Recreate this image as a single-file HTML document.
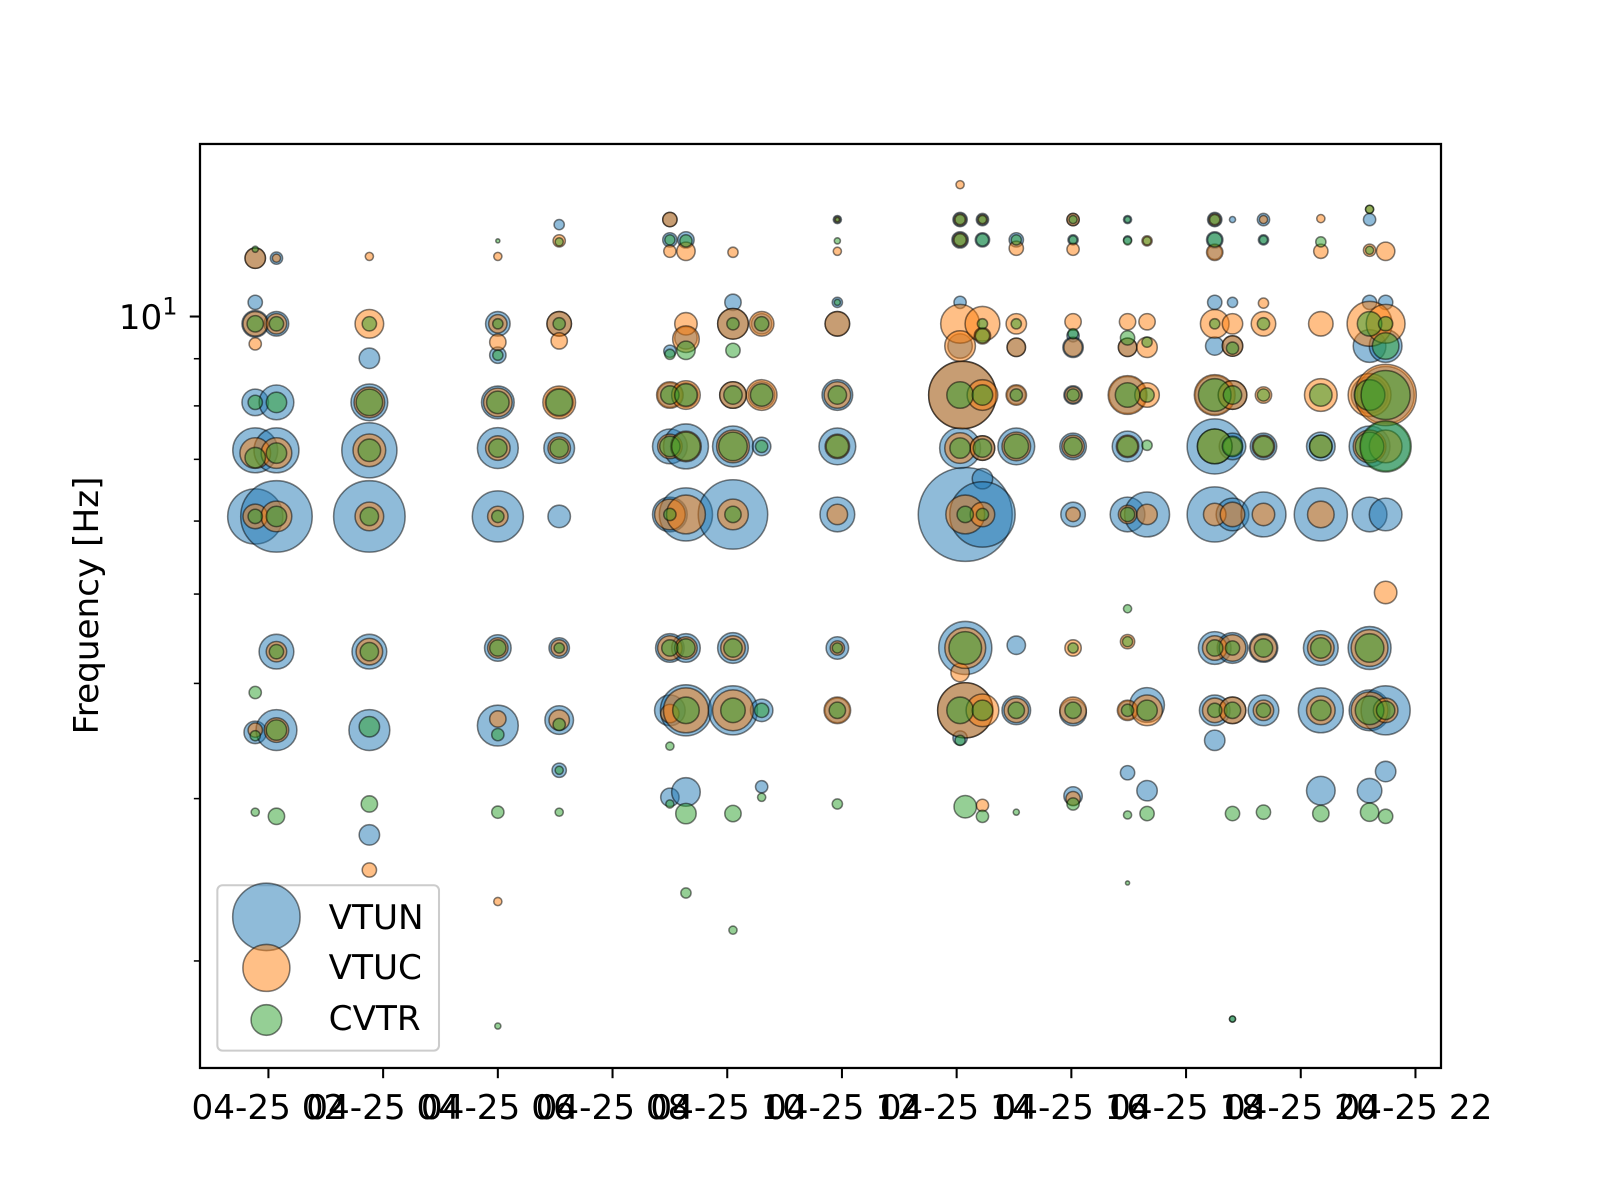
<!DOCTYPE html>
<html><head><meta charset="utf-8"><style>
body{margin:0;background:#fff}
svg{display:block;font-family:"DejaVu Sans","Liberation Sans",sans-serif}
</style></head><body>
<svg id="chart" width="1600" height="1200" viewBox="0 0 1600 1200" xmlns="http://www.w3.org/2000/svg">
<rect width="1600" height="1200" fill="#fff"/>
<g transform="matrix(1.0214 0 0 1.021 -0.2 -1)">
<g id="marks"></g>
<rect x="196" y="142" width="1215" height="905" fill="none" stroke="#000" stroke-width="2.2"/>
<g id="axes"></g>
<text transform="translate(96,594) rotate(-90)" text-anchor="middle" font-size="33.5">Frequency [Hz]</text>
<g>
<rect x="213" y="868" width="217" height="162" rx="5" fill="#fff" fill-opacity="0.8" stroke="#ccc" stroke-width="2"/>
<g><circle cx="261" cy="899" r="33" fill="#1f77b4" fill-opacity="0.5" stroke="#000" stroke-opacity="0.5" stroke-width="1.5"/><text x="322" y="911" font-size="33.5">VTUN</text></g>
<g><circle cx="261" cy="949" r="23" fill="#ff7f0e" fill-opacity="0.5" stroke="#000" stroke-opacity="0.5" stroke-width="1.5"/><text x="322" y="960" font-size="33.5">VTUC</text></g>
<g><circle cx="261" cy="1000" r="15" fill="#2ca02c" fill-opacity="0.5" stroke="#000" stroke-opacity="0.5" stroke-width="1.5"/><text x="322" y="1010" font-size="33.5">CVTR</text></g>
</g>
</g>
</svg>
<script>
// x tick hours (04-25 HH), y tick freqs
const xTickHours = [2,4,6,8,10,12,14,16,18,20,22];
const yMajorTicks = [10];
const yMinorTicks = [2,3,4,5,6,7,8,9];
// series: [hour, frequency Hz, bubble size]
const vtun = [
[1.77,11.57,10],[2.14,11.57,6],[1.77,10.36,7],[1.77,9.82,13],[2.14,9.82,12],[1.77,8.07,13],[2.14,8.07,17],[1.77,7.16,22],[2.14,7.16,22],[1.77,6.07,27],[2.14,6.07,35],[1.77,3.54,11],[2.14,3.56,20],[2.14,4.33,17],
[3.76,9.01,10],[3.76,8.07,18],[3.76,7.16,27],[3.76,6.07,35],[3.76,4.33,17],[3.76,3.56,20],[3.76,2.74,10],
[6,9.82,12],[6,9.08,8],[6,8.07,16],[6,7.2,20],[6,6.07,25],[6,4.37,13],[6,3.6,20],
[7.07,12.58,5],[7.07,9.82,12],[7.07,8.07,14],[7.07,7.2,15],[7.07,6.07,11],[7.07,4.37,10],[7.07,3.65,14],[7.07,3.22,7],
[9,12.74,7],[9,12.11,7],[9,8.22,12],[9,7.23,17],[9,6.1,17],[9,4.37,14],[9,3.74,15],[9,9.17,6],[9,3.01,9],
[9.28,12.11,8],[9.28,9.48,11],[9.28,8.22,12],[9.28,7.23,22],[9.28,6.1,26],[9.28,4.37,14],[9.28,3.74,25],[9.28,3.05,14],
[10.1,10.36,8],[10.1,9.82,15],[10.1,8.22,13],[10.1,7.23,20],[10.1,6.1,34],[10.1,4.37,15],[10.1,3.74,24],
[10.6,9.82,10],[10.6,8.22,13],[10.6,7.23,9],[10.6,3.74,11],[10.6,3.09,6],
[11.92,12.74,4],[11.92,10.36,5],[11.92,9.82,12],[11.92,8.22,15],[11.92,7.23,18],[11.92,6.1,17],[11.92,4.37,11],[11.92,3.74,12],
[14.06,12.74,7],[14.06,12.11,8],[14.06,10.36,6],[14.06,9.29,12],[14.1,8.22,33],[14.06,7.2,20],[14.15,6.1,46],[14.15,4.37,26],[14.15,3.74,27],[14.06,3.49,7],
[14.45,12.74,6],[14.45,12.11,7],[14.45,6.67,10],[14.45,6.1,32],[14.45,7.2,12],
[15.04,12.11,7],[15.04,9.26,9],[15.04,8.22,9],[15.04,7.23,18],[15.04,4.4,9],[15.04,3.74,14],
[16.03,12.74,6],[16.03,12.11,5],[16.03,9.53,6],[16.03,9.26,10],[16.03,8.22,9],[16.03,7.23,13],[16.03,6.1,12],[16.03,3.72,13],[16.03,3.02,9],
[16.98,12.74,4],[16.98,12.11,4],[16.98,9.26,9],[16.98,8.22,18],[16.98,7.23,15],[16.98,6.1,17],[16.98,3.74,9],[16.98,3.2,7],
[17.32,6.1,22],[17.32,3.79,17],[17.32,3.06,10],
[18.5,12.74,7],[18.5,12.11,8],[18.5,11.74,7],[18.5,10.36,7],[18.5,9.29,9],[18.5,8.22,19],[18.5,7.23,27],[18.5,6.1,27],[18.5,4.37,16],[18.5,3.74,15],[18.5,3.47,10],
[18.81,12.74,3],[18.81,10.36,5],[18.81,9.29,10],[18.81,8.22,14],[18.81,7.23,13],[18.81,6.1,16],[18.81,4.37,15],[18.81,3.74,13],[18.81,1.73,3],
[19.35,12.74,6],[19.35,12.11,5],[19.35,7.23,13],[19.35,6.1,22],[19.35,4.37,14],[19.35,3.74,15],
[20.35,7.23,14],[20.35,6.1,26],[20.35,4.37,17],[20.35,3.74,22],[20.35,3.06,14],
[21.2,12.74,6],[21.2,10.36,7],[21.2,9.29,16],[21.2,8.22,18],[21.2,7.23,20],[21.2,6.1,17],[21.2,4.37,21],[21.2,3.74,20],[21.2,3.06,12],
[21.48,10.36,7],[21.48,9.29,16],[21.48,8.22,28],[21.48,7.23,24],[21.48,6.1,16],[21.48,3.74,24],[21.48,3.21,10]
];
const vtuc = [
[1.77,11.57,10],[2.14,11.57,4],[1.77,9.82,12],[2.14,9.82,10],[1.77,9.34,6],[1.77,7.11,15],[2.14,7.11,15],[1.77,6.07,12],[2.14,6.07,15],[2.14,4.33,10],[1.77,3.56,7],[2.14,3.56,12],
[3.76,11.62,4],[3.76,9.82,14],[3.76,8.07,15],[3.76,7.16,16],[3.76,6.07,14],[3.76,4.33,13],[3.76,2.51,7],
[6,11.62,4],[6,9.82,9],[6,9.38,8],[6,8.07,14],[6,7.2,12],[6,6.07,10],[6,4.37,10],[6,3.66,8],[6,2.32,4],
[7.07,12.08,6],[7.07,9.82,12],[7.07,9.41,8],[7.07,8.07,16],[7.07,7.2,11],[7.07,4.37,8],[7.07,3.65,10],
[9,12.74,7],[9,11.77,6],[9,8.22,13],[9,7.23,12],[9,6.1,15],[9,4.37,12],[9,3.71,9],
[9.28,11.77,9],[9.28,9.82,11],[9.28,9.45,13],[9.28,8.22,14],[9.28,7.23,15],[9.28,6.1,19],[9.28,4.37,11],[9.28,3.74,22],
[10.1,11.74,5],[10.1,9.82,15],[10.1,8.22,13],[10.1,7.23,16],[10.1,6.1,15],[10.1,4.37,12],[10.1,3.74,20],
[10.6,9.82,12],[10.6,8.22,15],
[11.92,12.74,3],[11.92,11.77,4],[11.92,9.82,12],[11.92,8.22,13],[11.92,7.23,12],[11.92,6.1,10],[11.92,4.37,7],[11.92,3.74,13],
[14.06,13.9,4],[14.06,12.74,6],[14.06,12.11,7],[14.06,9.82,19],[14.06,9.29,15],[14.1,8.22,33],[14.06,7.2,15],[14.15,6.1,19],[14.06,4.11,9],[14.15,4.37,20],[14.15,3.74,27],
[14.45,12.74,5],[14.45,9.82,17],[14.45,9.53,8],[14.45,8.22,15],[14.45,7.2,12],[14.45,6.1,12],[14.45,3.74,16],[14.45,2.95,6],
[15.04,11.86,7],[15.04,9.82,10],[15.04,9.26,9],[15.04,8.22,10],[15.04,7.23,14],[15.04,3.74,12],
[16.03,12.74,6],[16.03,11.83,6],[16.03,9.87,8],[16.03,9.26,9],[16.03,8.22,8],[16.03,7.23,11],[16.03,6.1,7],[16.03,4.37,8],[16.03,3.74,13],[16.03,3.0,7],
[16.98,9.87,8],[16.98,9.26,9],[16.98,8.22,19],[16.98,7.23,11],[16.98,6.1,9],[16.98,4.44,7],[16.98,3.74,10],
[17.32,12.08,5],[17.32,9.87,8],[17.32,9.26,10],[17.32,8.22,12],[17.32,6.1,10],[17.32,3.74,15],
[18.5,12.74,6],[18.5,11.74,8],[18.5,9.82,14],[18.5,8.22,20],[18.5,7.23,17],[18.5,6.1,11],[18.5,4.37,12],[18.5,3.74,12],
[18.81,9.82,10],[18.81,9.29,10],[18.81,8.22,14],[18.81,7.23,9],[18.81,6.1,12],[18.81,4.37,13],[18.81,3.74,13],
[19.35,12.74,4],[19.35,10.34,5],[19.35,9.82,12],[19.35,8.22,8],[19.35,7.23,11],[19.35,6.1,11],[19.35,4.37,13],[19.35,3.74,10],
[20.35,12.77,4],[20.35,11.77,7],[20.35,9.82,12],[20.35,8.22,16],[20.35,7.23,11],[20.35,6.1,13],[20.35,4.37,13],[20.35,3.74,14],
[21.2,13.07,4],[21.2,11.8,6],[21.2,9.82,22],[21.2,8.22,21],[21.2,7.23,16],[21.2,4.37,18],[21.2,3.74,18],
[21.48,11.77,9],[21.48,9.82,19],[21.48,8.22,30],[21.48,7.23,16],[21.48,5.02,11],[21.48,3.74,12]
];
const cvtr = [
[1.77,11.83,3],[1.77,9.82,8],[2.14,9.82,7],[1.77,8.07,7],[2.14,8.07,10],[1.77,7.03,10],[2.14,7.11,10],[1.77,6.07,7],[2.14,6.07,10],[2.14,4.33,7],[1.77,3.91,6],[1.77,3.51,5],[2.14,3.56,10],[1.77,2.9,4],[2.14,2.87,8],
[3.76,9.82,7],[3.76,8.07,13],[3.76,7.16,11],[3.76,6.07,9],[3.76,4.33,9],[3.76,3.59,10],[3.76,2.96,8],
[6,12.08,2],[6,9.82,5],[6,9.08,5],[6,8.07,11],[6,7.2,9],[6,6.07,6],[6,4.37,8],[6,3.52,6],[6,2.9,6],[6,1.7,3],
[7.07,12.05,4],[7.07,9.82,6],[7.07,8.07,13],[7.07,7.2,9],[7.07,4.37,5],[7.07,3.61,6],[7.07,3.22,4],[7.07,2.9,4],
[9,12.11,5],[9,9.1,5],[9,8.22,9],[9,7.23,10],[9,6.1,6],[9,4.37,8],[9,3.42,4],[9,2.96,4],
[9.28,12.08,6],[9.28,9.19,9],[9.28,8.22,11],[9.28,7.23,14],[9.28,4.37,9],[9.28,3.74,13],[9.28,2.89,10],[9.28,2.37,5],
[10.1,9.82,6],[10.1,9.19,7],[10.1,8.22,9],[10.1,7.23,14],[10.1,6.1,8],[10.1,4.37,9],[10.1,3.74,12],[10.1,2.89,8],[10.1,2.16,4],
[10.6,9.82,7],[10.6,8.22,11],[10.6,7.23,6],[10.6,3.74,7],[10.6,3.01,4],
[11.92,12.74,2],[11.92,12.08,3],[11.92,10.36,3],[11.92,8.22,9],[11.92,7.23,11],[11.92,4.37,5],[11.92,3.74,8],[11.92,2.96,5],
[14.06,12.74,5],[14.06,12.11,6],[14.06,8.22,13],[14.06,7.2,10],[14.15,6.1,8],[14.15,4.37,16],[14.06,3.74,13],[14.06,3.47,5],[14.15,2.94,11],
[14.45,12.74,4],[14.45,12.11,6],[14.45,9.82,5],[14.45,9.53,7],[14.45,8.22,10],[14.45,7.2,9],[14.45,6.1,6],[14.45,3.74,10],[14.45,2.87,6],
[15.04,12.11,5],[15.04,9.82,5],[15.04,8.22,6],[15.04,7.23,12],[15.04,3.74,8],[15.04,2.9,3],
[16.03,12.74,4],[16.03,12.11,4],[16.03,9.58,5],[16.03,8.22,6],[16.03,7.23,9],[16.03,4.37,5],[16.03,3.74,8],[16.03,2.96,6],
[16.98,12.74,3],[16.98,12.08,4],[16.98,9.48,7],[16.98,8.22,12],[16.98,7.23,10],[16.98,6.1,7],[16.98,4.82,4],[16.98,4.44,5],[16.98,3.74,6],[16.98,2.43,2],[16.98,2.88,4],
[17.32,12.08,4],[17.32,9.38,5],[17.32,8.22,7],[17.32,7.25,5],[17.32,3.74,10],[17.32,2.89,7],
[18.5,12.74,5],[18.5,12.11,7],[18.5,9.82,5],[18.5,8.22,16],[18.5,7.23,17],[18.5,4.37,8],[18.5,3.74,7],
[18.81,9.24,6],[18.81,8.22,9],[18.81,7.23,10],[18.81,4.37,7],[18.81,3.74,8],[18.81,2.89,7],[18.81,1.73,3],
[19.35,12.11,4],[19.35,9.82,6],[19.35,8.22,6],[19.35,7.23,10],[19.35,4.37,9],[19.35,3.74,7],[19.35,2.9,7],
[20.35,12.05,5],[20.35,8.22,11],[20.35,7.23,11],[20.35,4.37,10],[20.35,3.74,10],[20.35,2.89,8],
[21.2,13.07,4],[21.2,11.8,4],[21.2,9.82,12],[21.2,8.22,15],[21.2,7.23,14],[21.2,4.37,14],[21.2,3.74,14],[21.2,2.9,9],
[21.48,9.82,7],[21.48,9.29,13],[21.48,8.22,24],[21.48,7.23,25],[21.48,3.74,9],[21.48,2.87,7]
];

const NS = "http://www.w3.org/2000/svg";
function xScale(h){ return 263 + (h - xTickHours[0]) * 56.15; }
function yScale(f){ return 311 - (Math.log10(f) - 1) * 903; }

const marks = document.getElementById('marks');
const seriesList = [[vtun,'#1f77b4','vtun'],[vtuc,'#ff7f0e','vtuc'],[cvtr,'#2ca02c','cvtr']];
seriesList.forEach(function(s){
  const g = document.createElementNS(NS,'g');
  
  
  s[0].forEach(function(d){
    const c = document.createElementNS(NS,'circle');
    c.setAttribute('cx', xScale(d[0]));
    c.setAttribute('cy', yScale(d[1]));
    c.setAttribute('r', d[2]);
    c.setAttribute('fill', s[1]);
    c.setAttribute('fill-opacity', '0.5');
    c.setAttribute('stroke', '#000');
    c.setAttribute('stroke-opacity', '0.5');
    c.setAttribute('stroke-width', '1.5');
    
    
    g.appendChild(c);
  });
  marks.appendChild(g);
});

const axes = document.getElementById('axes');
xTickHours.forEach(function(h){
  const x = xScale(h);
  const t = document.createElementNS(NS,'line');
  t.setAttribute('x1', x); t.setAttribute('x2', x);
  t.setAttribute('y1', 1047); t.setAttribute('y2', 1057);
  t.setAttribute('stroke', '#000'); t.setAttribute('stroke-width', '2');
  
  
  axes.appendChild(t);
  const l = document.createElementNS(NS,'text');
  l.setAttribute('x', x); l.setAttribute('y', 1097);
  l.setAttribute('text-anchor', 'middle'); l.setAttribute('font-size', '33.5');
  l.textContent = '04-25 ' + String(h).padStart(2,'0');
  
  
  axes.appendChild(l);
});
yMajorTicks.forEach(function(f){
  const y = yScale(f);
  const t = document.createElementNS(NS,'line');
  t.setAttribute('x1', 186); t.setAttribute('x2', 196);
  t.setAttribute('y1', y); t.setAttribute('y2', y);
  t.setAttribute('stroke', '#000'); t.setAttribute('stroke-width', '2');
  
  
  axes.appendChild(t);
  const l = document.createElementNS(NS,'text');
  l.setAttribute('x', 174); l.setAttribute('y', y + 12);
  l.setAttribute('text-anchor', 'end'); l.setAttribute('font-size', '33.5');
  l.innerHTML = '10<tspan dy="-14" font-size="23.5">1</tspan>';
  
  
  axes.appendChild(l);
});
yMinorTicks.forEach(function(f){
  const y = yScale(f);
  const t = document.createElementNS(NS,'line');
  t.setAttribute('x1', 190); t.setAttribute('x2', 196);
  t.setAttribute('y1', y); t.setAttribute('y2', y);
  t.setAttribute('stroke', '#000'); t.setAttribute('stroke-width', '1.5');
  
  
  axes.appendChild(t);
});
</script>
</body></html>
